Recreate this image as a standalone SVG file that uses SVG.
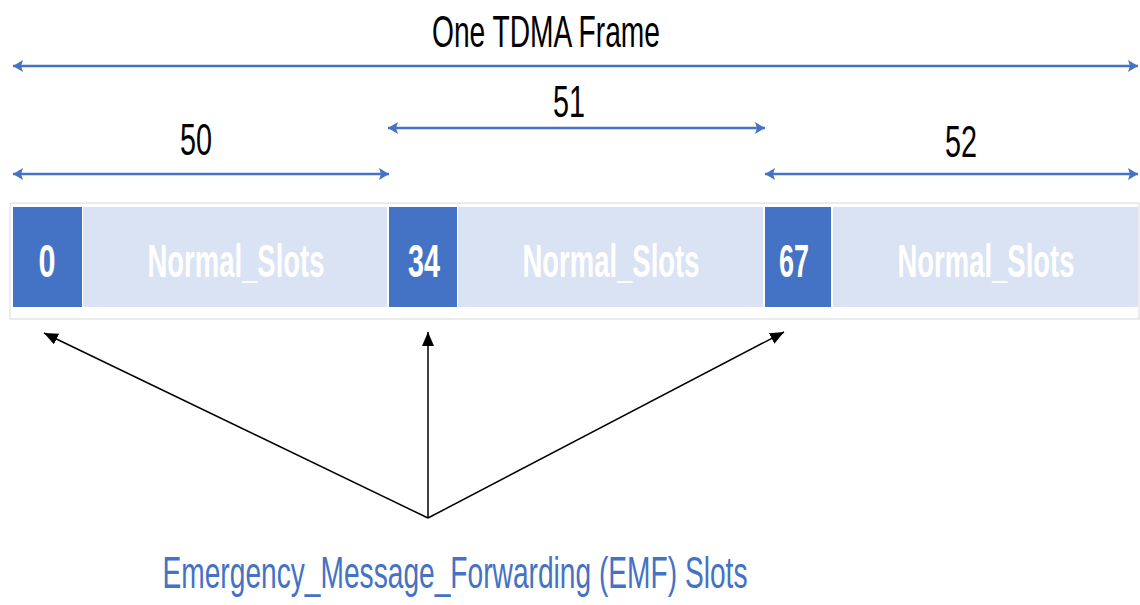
<svg xmlns="http://www.w3.org/2000/svg" width="1140" height="605" viewBox="0 0 1140 605">
<style>
.lbl{font-family:"Liberation Sans Narrow","Liberation Sans",Arial,sans-serif;fill:#000}
.cell{font-family:"Liberation Sans Narrow","Liberation Sans",Arial,sans-serif;font-weight:bold;fill:#fff;text-anchor:middle}
.emf{fill:#4472C4}
.light{fill:#DAE3F3}
.dim{stroke:#4472C4;stroke-width:2.5;fill:none}
.ptr{stroke:#000;stroke-width:1.5;fill:none}
</style>
<defs>
<marker id="bh" viewBox="0 0 10 12" refX="10" refY="6" markerWidth="10" markerHeight="12" markerUnits="userSpaceOnUse" orient="auto-start-reverse">
<path d="M0,0 L10,6 L0,12 L2,6 Z" fill="#4472C4"/>
</marker>
<marker id="kh" viewBox="0 0 14 12" refX="14" refY="6" markerWidth="14" markerHeight="12" markerUnits="userSpaceOnUse" orient="auto">
<path d="M0,0 L14,6 L0,12 Z" fill="#000"/>
</marker>
</defs>
<rect width="1140" height="605" fill="#fff"/>
<g id="frame">
<rect x="10" y="203" width="1129" height="116" fill="none" stroke="#d9d9d9" stroke-width="1"/>
</g>
<g id="slot0"><rect class="emf" x="13" y="207" width="69" height="100"/><text class="cell" x="47" y="277" font-size="46" textLength="17" lengthAdjust="spacingAndGlyphs">0</text></g>
<g id="normal1"><rect class="light" x="83" y="207" width="304" height="100"/><text class="cell" x="236" y="277" font-size="46" textLength="177" lengthAdjust="spacingAndGlyphs">Normal_Slots</text></g>
<g id="slot34"><rect class="emf" x="389" y="207" width="68" height="100"/><text class="cell" x="424" y="277" font-size="46" textLength="32" lengthAdjust="spacingAndGlyphs">34</text></g>
<g id="normal2"><rect class="light" x="458" y="207" width="305" height="100"/><text class="cell" x="611" y="277" font-size="46" textLength="177" lengthAdjust="spacingAndGlyphs">Normal_Slots</text></g>
<g id="slot67"><rect class="emf" x="765" y="207" width="66" height="100"/><text class="cell" x="794" y="277" font-size="46" textLength="30" lengthAdjust="spacingAndGlyphs">67</text></g>
<g id="normal3"><rect class="light" x="833" y="207" width="305" height="100"/><text class="cell" x="986" y="277" font-size="46" textLength="177" lengthAdjust="spacingAndGlyphs">Normal_Slots</text></g>
<g id="connectors">
<line class="dim" x1="13" y1="66" x2="1138" y2="66" marker-start="url(#bh)" marker-end="url(#bh)"/>
<line class="dim" x1="13" y1="174" x2="389" y2="174" marker-start="url(#bh)" marker-end="url(#bh)"/>
<line class="dim" x1="388" y1="128" x2="765" y2="128" marker-start="url(#bh)" marker-end="url(#bh)"/>
<line class="dim" x1="765" y1="174" x2="1138" y2="174" marker-start="url(#bh)" marker-end="url(#bh)"/>
<line class="ptr" x1="428" y1="518" x2="44" y2="333" marker-end="url(#kh)"/>
<line class="ptr" x1="428" y1="518" x2="428" y2="332" marker-end="url(#kh)"/>
<line class="ptr" x1="428" y1="518" x2="784" y2="332" marker-end="url(#kh)"/>
</g>
<g id="labels">
<text class="lbl" x="546" y="47" font-size="45" text-anchor="middle" textLength="228" lengthAdjust="spacingAndGlyphs">One TDMA Frame</text>
<text class="lbl" x="196" y="155" font-size="45" text-anchor="middle" textLength="32" lengthAdjust="spacingAndGlyphs">50</text>
<text class="lbl" x="569" y="117" font-size="45" text-anchor="middle" textLength="32" lengthAdjust="spacingAndGlyphs">51</text>
<text class="lbl" x="961" y="157" font-size="45" text-anchor="middle" textLength="32" lengthAdjust="spacingAndGlyphs">52</text>
<text x="455" y="588" font-size="45" text-anchor="middle" textLength="585" lengthAdjust="spacingAndGlyphs" style="font-family:'Liberation Sans Narrow','Liberation Sans',Arial,sans-serif;fill:#4472C4">Emergency_Message_Forwarding (EMF) Slots</text>
</g>
</svg>
